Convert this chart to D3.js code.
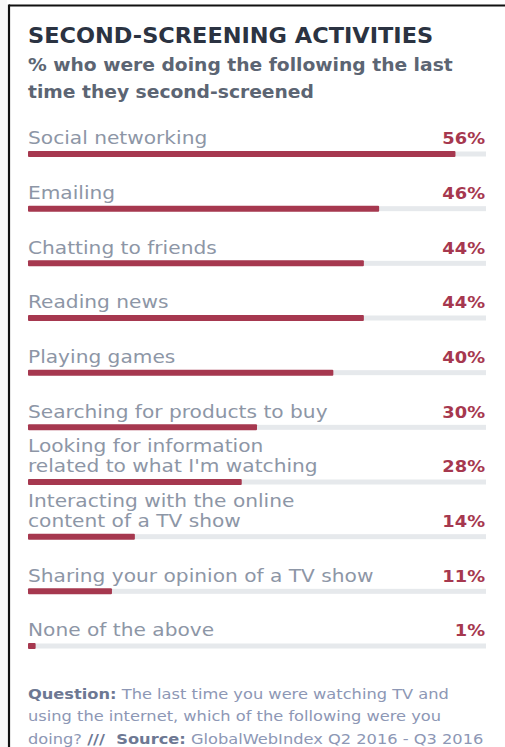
<!DOCTYPE html>
<html><head><meta charset="utf-8">
<script src="https://cdn.jsdelivr.net/npm/d3@7"></script>
<style>
html,body{margin:0;padding:0;background:#fff;}
svg{display:block;}
</style></head>
<body>
<script>
const categories = ["Social networking","Emailing","Chatting to friends","Reading news","Playing games","Searching for products to buy","Looking for information|related to what I'm watching","Interacting with the online|content of a TV show","Sharing your opinion of a TV show","None of the above"];
const values = [56,46,44,44,40,30,28,14,11,1];
const title = "SECOND-SCREENING ACTIVITIES";
const subtitle = ["% who were doing the following the last","time they second-screened"];
const footer = [
  [["Question:",true],[" The last time you were watching TV and",false]],
  [["using the internet, which of the following were you",false]],
  [["doing? ",false],["///",true],["  Source:",true],[" GlobalWebIndex Q2 2016 - Q3 2016",false]]
];

const W=505,H=747;
const svg=d3.select("body").append("svg").attr("width",W).attr("height",H);
const FONT="'DejaVu Sans', sans-serif";

// wide-text helper: horizontally stretched group anchored at (ax)
function wide(parent, ax, sx){
  return parent.append("g").attr("transform",`translate(${ax},0) scale(${sx},1)`);
}

// frame
svg.append("rect").attr("x",0).attr("y",0).attr("width",7).attr("height",H).attr("fill","#f8f8f8");
svg.append("line").attr("x1",9).attr("x2",W).attr("y1",5.5).attr("y2",5.5).attr("stroke","#111").attr("stroke-width",2.2);
svg.append("line").attr("x1",9).attr("x2",9).attr("y1",4.5).attr("y2",H).attr("stroke","#111").attr("stroke-width",2.2);

wide(svg,28,1.095).append("text").attr("x",0).attr("y",43).text(title)
  .attr("font-family",FONT).attr("font-weight","bold").attr("font-size",20.5).attr("fill","#2b3342");
const sg=wide(svg,28,1.1);
subtitle.forEach((s,i)=>sg.append("text").attr("x",0).attr("y",71+i*27).text(s)
  .attr("font-family",FONT).attr("font-weight","600").attr("font-size",17).attr("fill","#5c6573"));

const x=d3.scaleLinear().domain([0,60]).range([28,486]);
const y=d3.scalePoint().domain(d3.range(categories.length)).range([154,646]);
const barH=6;

const g=svg.append("g");
const rows=g.selectAll("g.row").data(categories.map((c,i)=>({c,v:values[i],i}))).join("g").attr("class","row");
rows.append("rect").attr("x",x(0)).attr("width",x(60)-x(0)).attr("y",d=>y(d.i)-barH/2+0.5).attr("height",barH-1).attr("fill","#e6e9ec");
rows.append("rect").attr("x",x(0)).attr("width",d=>x(d.v)-x(0)).attr("y",d=>y(d.i)-barH/2).attr("height",barH).attr("fill","#a6384f").attr("rx",1);
rows.each(function(d){
  const lines=d.c.split("|");
  const base=y(d.i)-barH/2-6.5;
  const t=wide(d3.select(this),28,1.12).append("text").attr("font-family",FONT).attr("font-size",18).attr("fill","#8d96a6");
  lines.forEach((l,k)=>t.append("tspan").attr("x",0).attr("y",base-(lines.length-1-k)*20).text(l));
  wide(d3.select(this),485,1.08).append("text").attr("x",0).attr("y",base).attr("text-anchor","end")
    .attr("font-family",FONT).attr("font-weight","bold").attr("font-size",16.5).attr("fill","#a6384f").text(d.v+"%");
});

const fg=wide(svg,28,1.16);
footer.forEach((ln,i)=>{
  const t=fg.append("text").attr("x",0).attr("y",699+i*22.5).attr("font-family",FONT).attr("font-size",14).attr("fill","#8d97b5");
  ln.forEach(([s,b])=>t.append("tspan").text(s).attr("font-weight",b?"bold":"normal").attr("fill",b?"#6d7893":"#8d97b5").attr("xml:space","preserve"));
});
</script>
</body></html>
